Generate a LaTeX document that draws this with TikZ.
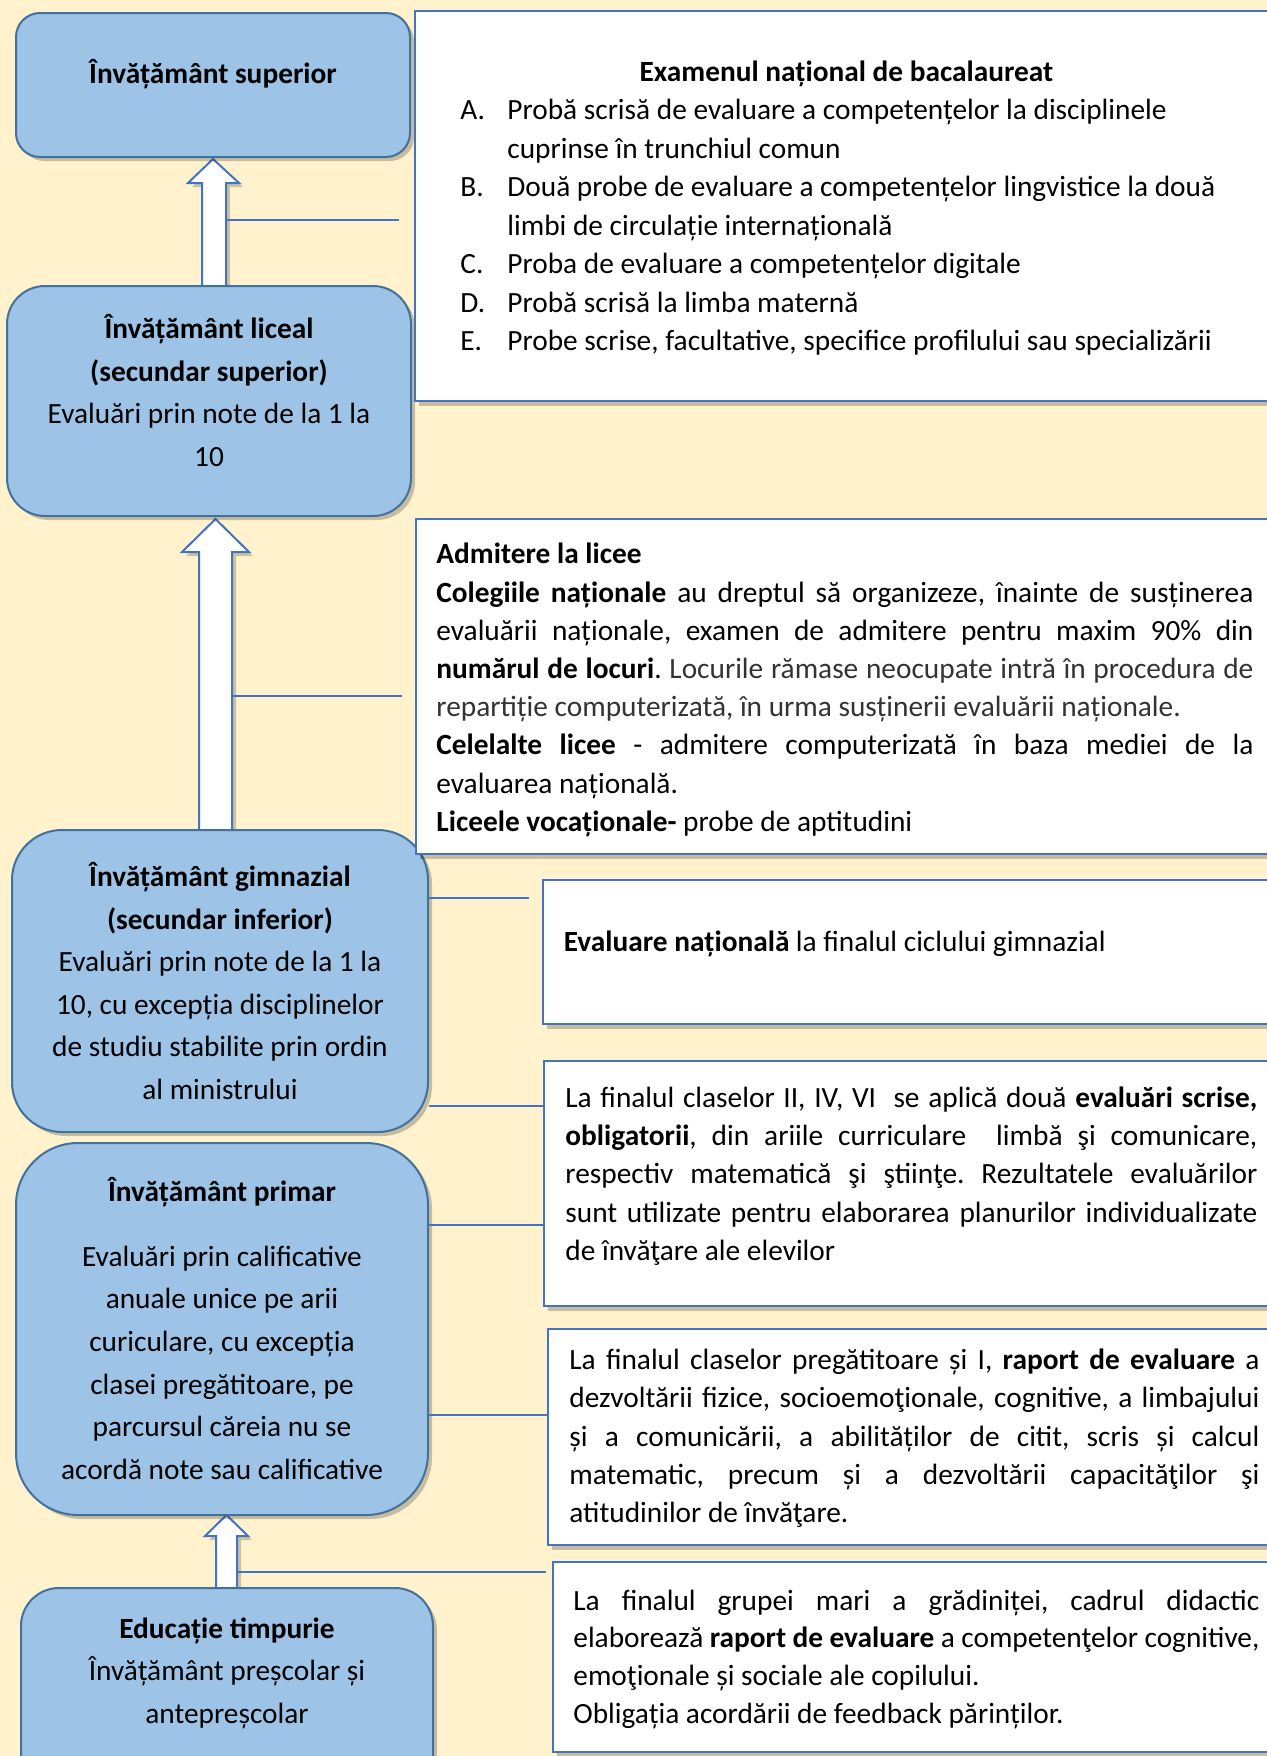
\documentclass[tikz,border=0pt]{standalone}
\usepackage{fontspec}
\setmainfont{Carlito}
\usetikzlibrary{shadows,fit}
\definecolor{bgc}{HTML}{FFF2CC}
\definecolor{lvlf}{HTML}{9DC3E6}
\definecolor{lvlb}{HTML}{41719C}
\definecolor{lnb}{HTML}{4472C4}
\frenchspacing
\newcommand\rfont{\fontsize{14.67pt}{19.2pt}\selectfont}
\newcommand\lfont{\fontsize{14.67pt}{21.3pt}\selectfont}
\newcommand\JL[1]{\hbox to \linewidth{#1}}
\newcommand\NL[1]{\hbox{#1}}
\newcommand\CL[1]{\hbox to \linewidth{\hfil#1\hfil}}
\tikzset{
  lvl/.style={draw=lvlb, fill=lvlf, line width=1pt, inner sep=0pt, rounded corners=#1,
    drop shadow={shadow xshift=2pt, shadow yshift=-2pt, opacity=0.22, fill=black}},
  rbox/.style={draw=lnb, fill=white, line width=1pt, inner sep=0pt,
    drop shadow={shadow xshift=2pt, shadow yshift=-2.5pt, opacity=0.22, fill=black}},
  barrow/.style={draw=lnb, fill=white, line width=1pt, line join=miter,
    drop shadow={shadow xshift=2pt, shadow yshift=-2pt, opacity=0.2, fill=black}},
  conn/.style={draw=lnb, line width=1pt},
  txt/.style={inner sep=0pt, anchor=base west},
  ctxt/.style={inner sep=0pt, anchor=base},
}
\begin{document}
\begin{tikzpicture}[x=0.5pt,y=-0.5pt]
\useasboundingbox (0,0) rectangle (1267,1756);
\clip (0,0) rectangle (1267,1756);
\fill[bgc] (0,0) rectangle (1267,1756);

% block arrows (behind boxes)
\draw[barrow] (213,159) -- (239,183) -- (226,183) -- (226,287) -- (202,287) -- (202,183) -- (188,183) -- cycle;
\draw[barrow] (215.5,519) -- (249,552) -- (232,552) -- (232,832) -- (199,832) -- (199,552) -- (182,552) -- cycle;
\draw[barrow] (226.5,1515) -- (248,1536) -- (237,1536) -- (237,1588) -- (216,1588) -- (216,1536) -- (205,1536) -- cycle;
\coordinate (a1) at (226,220);
\coordinate (a2) at (232,696);
\coordinate (a3) at (237,1572);

% level boxes
\node[lvl=12pt, fit={(16,13) (410,157)}] (sup) {};
\node[lvl=19pt, fit={(7,286) (411,516)}] (lic) {};
\node[lvl=25pt, fit={(12,830) (428,1132)}] (gim) {};
\node[lvl=31pt, fit={(16,1143) (428,1515)}] (prim) {};
\node[lvl=19pt, fit={(21,1588) (433,1820)}] (edu) {};

% right boxes
\node[rbox, fit={(415,11) (1320,401)}] (exam) {};
\node[rbox, fit={(416,519) (1320,854)}] (adm) {};
\node[rbox, fit={(543,880) (1320,1024)}] (evn) {};
\node[rbox, fit={(544,1061) (1320,1306)}] (cls) {};
\node[rbox, fit={(548,1329) (1320,1545)}] (preg) {};
\node[rbox, fit={(553,1562) (1320,1752)}] (gradi) {};

% connectors
\draw[conn] (a1) -- ([xshift=-7.5pt]a1 -| exam.west);
\draw[conn] (a2) -- ([xshift=-6.5pt]a2 -| adm.west);
\draw[conn] (gim.east |- 0,898) -- ([xshift=-6.5pt]evn.west |- 0,898);
\draw[conn] (gim.east |- 0,1106) -- (cls.west |- 0,1106);
\draw[conn] (prim.east |- 0,1225) -- (cls.west |- 0,1225);
\draw[conn] (prim.east |- 0,1415) -- (preg.west |- 0,1415);
\draw[conn] (a3) -- ([xshift=-3pt]a3 -| gradi.west);

% left texts
\node[ctxt] (supT) at (213,83.5) {\lfont\begin{minipage}[t]{190pt}
\CL{\bfseries Învățământ superior}\end{minipage}};
\node[ctxt] (licT) at (209,338.7) {\lfont\begin{minipage}[t]{195pt}
\CL{\bfseries Învățământ liceal}
\CL{\bfseries (secundar superior)}
\CL{Evaluări prin note de la 1 la}
\CL{10}\end{minipage}};
\node[ctxt] (gimT) at (220,886.5) {\lfont\begin{minipage}[t]{200pt}
\CL{\bfseries Învățământ gimnazial}
\CL{\bfseries (secundar inferior)}
\CL{Evaluări prin note de la 1 la}
\CL{10, cu excepția disciplinelor}
\CL{de studiu stabilite prin ordin}
\CL{al ministrului}\end{minipage}};
\node[ctxt] (primT) at (222,1201.3) {\lfont\begin{minipage}[t]{200pt}
\CL{\bfseries Învățământ primar}
\vskip 11.2pt
\CL{Evaluări prin calificative}
\CL{anuale unice pe arii}
\CL{curiculare, cu excepția}
\CL{clasei pregătitoare, pe}
\CL{parcursul căreia nu se}
\CL{acordă note sau calificative}\end{minipage}};
\node[ctxt] (eduT) at (227,1638.2) {\lfont\begin{minipage}[t]{200pt}
\CL{\bfseries Educație timpurie}
\CL{Învățământ preșcolar și}
\CL{antepreșcolar}\end{minipage}};

% right texts
\node[txt] (examT) at (460,81.1) {\fontsize{14.67pt}{19.25pt}\selectfont\begin{minipage}[t]{386pt}
\CL{\bfseries Examenul național de bacalaureat}
\NL{\makebox[23.5pt][l]{A.}Probă scrisă de evaluare a competențelor la disciplinele}
\NL{\hspace{23.5pt}cuprinse în trunchiul comun}
\NL{\makebox[23.5pt][l]{B.}Două probe de evaluare a competențelor lingvistice la două}
\NL{\hspace{23.5pt}limbi de circulație internațională}
\NL{\makebox[23.5pt][l]{C.}Proba de evaluare a competențelor digitale}
\NL{\makebox[23.5pt][l]{D.}Probă scrisă la limba maternă}
\NL{\makebox[23.5pt][l]{E.}Probe scrise, facultative, specifice profilului sau specializării}
\end{minipage}};
\node[txt] (admT) at (436,563.9) {\fontsize{14.67pt}{19.1pt}\selectfont\begin{minipage}[t]{408.5pt}
\NL{\bfseries Admitere la licee}
\JL{\textbf{Colegiile naționale} au dreptul să organizeze, înainte de susținerea}
\JL{evaluării naționale, examen de admitere pentru maxim 90\% din}
\JL{\textbf{numărul de locuri}. {\color{black!80}Locurile rămase neocupate intră în procedura de}}
\NL{\color{black!80}repartiție computerizată, în urma susținerii evaluării naționale.}
\JL{\textbf{Celelalte licee} - admitere computerizată în baza mediei de la}
\NL{evaluarea națională.}
\NL{\textbf{Liceele vocaționale-} probe de aptitudini}
\end{minipage}};
\node[txt] (evnT) at (563.5,951.5) {\rfont\textbf{Evaluare națională} la finalul ciclului gimnazial};
\node[txt] (clsT) at (565,1107.2) {\fontsize{14.67pt}{19.15pt}\selectfont\begin{minipage}[t]{346pt}
\JL{La finalul claselor II, IV, VI\ \ se aplică două \textbf{evaluări scrise,}}
\JL{\textbf{obligatorii}, din ariile curriculare\ \ limbă şi comunicare,}
\JL{respectiv matematică şi ştiinţe. Rezultatele evaluărilor}
\JL{sunt utilizate pentru elaborarea planurilor individualizate}
\NL{de învăţare ale elevilor}
\end{minipage}};
\node[txt] (pregT) at (569,1369.3) {\fontsize{14.67pt}{19.2pt}\selectfont\begin{minipage}[t]{345pt}
\JL{La finalul claselor pregătitoare și I, \textbf{raport de evaluare} a}
\JL{dezvoltării fizice, socioemoţionale, cognitive, a limbajului}
\JL{și a comunicării, a abilităților de citit, scris și calcul}
\JL{matematic, precum și a dezvoltării capacităţilor şi}
\NL{atitudinilor de învăţare.}
\end{minipage}};
\node[txt] (gradiT) at (573,1610.2) {\fontsize{14.67pt}{18.85pt}\selectfont\begin{minipage}[t]{343pt}
\JL{La finalul grupei mari a grădiniței, cadrul didactic}
\JL{elaborează \textbf{raport de evaluare} a competenţelor cognitive,}
\NL{emoţionale și sociale ale copilului.}
\NL{Obligația acordării de feedback părinților.}
\end{minipage}};
\end{tikzpicture}
\end{document}
